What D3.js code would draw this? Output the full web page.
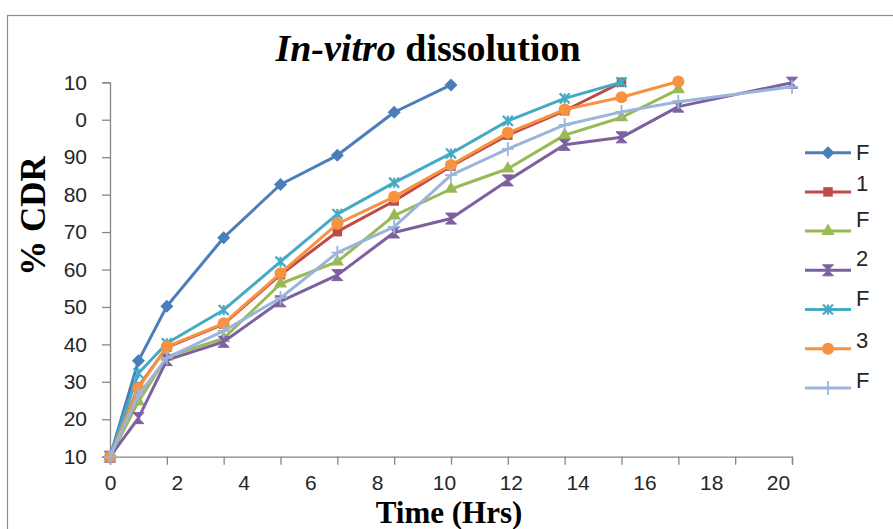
<!DOCTYPE html>
<html>
<head>
<meta charset="utf-8">
<script src="https://cdn.jsdelivr.net/npm/d3@7"></script>
<style>
  body { margin: 0; background: #fff; }
  svg { display: block; }
</style>
</head>
<body>
<svg id="chart" width="893" height="529"></svg>
<script>
// Dissolution in-vitro : % CDR cumulé selon le temps, 7 formulations

// Temps (position sur l'axe, une graduation par unité)
const temps = [0, 0.5, 1, 2, 3, 4, 5, 6, 7, 8, 9, 10, 11, 12];

// Valeurs de chaque série (null = point absent, la ligne est reliée)
const f1 = [0, 25.6, 40.2, 58.5, 72.7, 80.5, 92.0, 99.3];
const f2 = [0, 18.7, 29.2, 35.4, 48.6, 60.1, 68.3, 77.6, 85.9, 92.4, 100];
const f3 = [0, 14.7, 26.7, 31.6, 46.2, 52.1, 64.4, 71.5, 76.9, 85.9, 90.6, 98.1];
const f4 = [0, 10.3, 25.8, 30.7, 41.5, 48.5, 59.9, 63.6, 73.8, 83.3, 85.3, 93.5, null, 99.9];
const f5 = [0, 22.3, 30.3, 39.2, 52.1, 64.8, 73.2, 81.0, 89.7, 95.7, 100];
const f6 = [0, 18.3, 29.4, 35.6, 49.0, 62.2, 69.4, 77.9, 86.5, 92.7, 96.0, 100.2];
const f7 = [0, 16.5, 26.4, 33.6, 42.4, 54.5, 61.4, 75.2, 82.2, 88.6, 92.1, 94.8, null, 98.8];

// Textes de la légende (tels qu'affichés)
const legende_textes = ["F", "1", "F", "2", "F", "3", "F"];

// Graduations et étiquettes des axes
const y_valeurs = [0, 10, 20, 30, 40, 50, 60, 70, 80, 90, 100];
const y_etiquettes = ["10", "20", "30", "40", "50", "60", "70", "80", "90", "0", "10"];
const x_etiquettes = [0, 2, 4, 6, 8, 10, 12, 14, 16, 18, 20];

const couleurs = ["#4a7ebb", "#be4b48", "#98b954", "#7d60a0", "#46aac5", "#f69240", "#9bb5da"];
const marqueurs = ["diamond", "square", "triangle", "hourglass", "star", "circle", "plus"];
const series = [f1, f2, f3, f4, f5, f6, f7];

var svg = d3.select("#chart");

// Cadre du graphique
svg.append("rect")
    .attr("x", 7.5).attr("y", 15.5)
    .attr("width", 900).attr("height", 530)
    .attr("fill", "none")
    .attr("stroke", "#8c8c8c")
    .attr("stroke-width", 1.2);

// Échelles
var x = d3.scaleLinear().domain([0, 12]).range([110, 792]);
var x_lab = d3.scaleLinear().domain([0, 20]).range([110, 778]);
var y = d3.scaleLinear().domain([0, 100]).range([456.7, 82.3]);

var police_axes = "'Liberation Sans', Arial, sans-serif";
var police_titres = "'Liberation Serif', 'Times New Roman', serif";

// Axe Y
var axe_y = svg.append("g")
    .attr("transform", "translate(110,0)")
    .call(d3.axisLeft(y).tickValues(y_valeurs).tickSize(8).tickPadding(15)
        .tickFormat((d, i) => y_etiquettes[i]));

// Axe X (graduations)
var axe_x = svg.append("g")
    .attr("transform", "translate(0,456.7)")
    .call(d3.axisBottom(x).ticks(12).tickSize(8).tickFormat(""));

// Étiquettes X (décalées par rapport aux graduations)
svg.append("g")
    .attr("transform", "translate(0,456.7)")
    .call(d3.axisBottom(x_lab).tickValues(x_etiquettes).tickSize(0).tickPadding(18))
    .call(g => g.select(".domain").remove());

svg.selectAll(".domain, .tick line")
    .attr("stroke", "#868686")
    .attr("stroke-width", 1.3);

svg.selectAll(".tick text")
    .attr("font-family", police_axes)
    .attr("font-size", "21px")
    .attr("fill", "#262626");

// Titre
var titre = svg.append("text")
    .attr("x", 428).attr("y", 61)
    .attr("text-anchor", "middle")
    .attr("font-family", police_titres)
    .attr("font-weight", "bold")
    .attr("font-size", "38px");
titre.append("tspan").attr("font-style", "italic").text("In-vitro");
titre.append("tspan").text(" dissolution");

// Titre de l'axe Y
svg.append("text")
    .attr("transform", "translate(45,216) rotate(-90)")
    .attr("text-anchor", "middle")
    .attr("font-family", police_titres)
    .attr("font-weight", "bold")
    .attr("font-size", "35px")
    .text("% CDR");

// Titre de l'axe X
svg.append("text")
    .attr("x", 449).attr("y", 522.5)
    .attr("text-anchor", "middle")
    .attr("font-family", police_titres)
    .attr("font-weight", "bold")
    .attr("font-size", "31px")
    .text("Time (Hrs)");

// Dessin d'un marqueur selon son type
function dessiner_marqueur(g, type, cx, cy, couleur)
{
    if (type === "square" || type === "triangle" || type === "circle") {
        var formes = {square: d3.symbolSquare, triangle: d3.symbolTriangle, circle: d3.symbolCircle};
        var tailles = {square: 90, triangle: 75, circle: 115};
        g.append("path")
            .attr("d", d3.symbol().type(formes[type]).size(tailles[type])())
            .attr("transform", `translate(${cx},${cy})`)
            .attr("fill", couleur);
    }
    else if (type === "diamond") {
        g.append("path")
            .attr("d", "M0,-6.5 L6.5,0 L0,6.5 L-6.5,0 Z")
            .attr("transform", `translate(${cx},${cy})`)
            .attr("fill", couleur);
    }
    else if (type === "hourglass") {
        g.append("path")
            .attr("d", "M-5.5,-5.5 L5.5,-5.5 L-5.5,5.5 L5.5,5.5 Z")
            .attr("transform", `translate(${cx},${cy})`)
            .attr("fill", couleur)
            .attr("stroke", couleur)
            .attr("stroke-width", 1);
    }
    else if (type === "star") {
        g.append("path")
            .attr("d", "M-5,-5 L5,5 M-5,5 L5,-5 M0,-5 L0,5")
            .attr("transform", `translate(${cx},${cy})`)
            .attr("stroke", couleur)
            .attr("stroke-width", 2.2)
            .attr("fill", "none");
    }
    else if (type === "plus") {
        g.append("path")
            .attr("d", "M-6,0 L6,0 M0,-7 L0,7")
            .attr("transform", `translate(${cx},${cy})`)
            .attr("stroke", couleur)
            .attr("stroke-width", 1.8)
            .attr("fill", "none");
    }
}

var ligne = d3.line()
    .x(d => x(d.t))
    .y(d => y(d.v));

// Séries
var conteneur = svg.append("g");
series.forEach((valeurs, i) => {
    var points = valeurs.map((v, j) => ({t: temps[j], v: v}))
        .filter(d => d.v !== null);

    var g = conteneur.append("g").attr("id", `serie_${i}`);
    g.append("path")
        .datum(points)
        .attr("d", ligne)
        .attr("fill", "none")
        .attr("stroke", couleurs[i])
        .attr("stroke-width", 3)
        .attr("stroke-linejoin", "round");

    points.forEach(d => dessiner_marqueur(g, marqueurs[i], x(d.t), y(d.v), couleurs[i]));
});

// Légende (les textes sont un peu remontés par rapport aux lignes)
var decalages = [0, 9, 12, 12, 11, 8, 8];
var legende = svg.append("g");
legende_textes.forEach((texte, i) => {
    var ly = 152.7 + i * 39.2;
    legende.append("line")
        .attr("x1", 805).attr("x2", 851)
        .attr("y1", ly).attr("y2", ly)
        .attr("stroke", couleurs[i])
        .attr("stroke-width", 3);
    dessiner_marqueur(legende, marqueurs[i], 828, ly, couleurs[i]);

    legende.append("text")
        .attr("x", 856)
        .attr("y", ly - decalages[i])
        .attr("dy", "0.35em")
        .attr("font-family", police_axes)
        .attr("font-size", "22px")
        .attr("fill", "#262626")
        .text(texte);
});
</script>
</body>
</html>
